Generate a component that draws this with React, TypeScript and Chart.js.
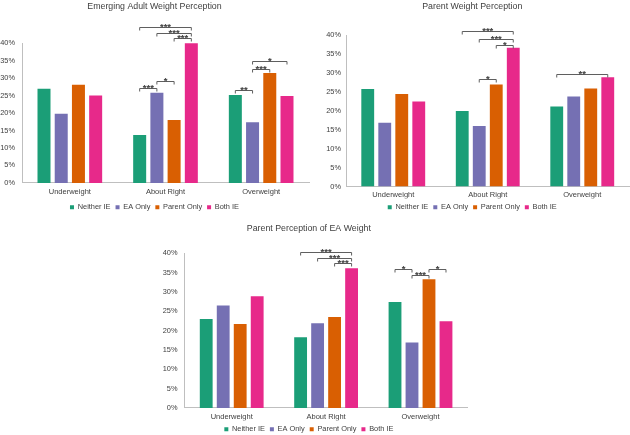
import React, { useEffect, useRef } from 'react';
import { Chart, registerables } from 'chart.js';

Chart.register(...registerables);

const categories = ['Underweight', 'About Right', 'Overweight'];
const seriesNames = ['Neither IE', 'EA Only', 'Parent Only', 'Both IE'];
const seriesColors = ['#1b9e77', '#7570b3', '#d95f02', '#e7298a'];

// Emerging Adult Weight Perception (%)
const eaNeither = [27.0, 13.7, 25.2];
const eaEAOnly = [19.8, 25.8, 17.4];
const eaParentOnly = [28.1, 18.0, 31.5];
const eaBoth = [25.0, 40.1, 24.9];

// Parent Weight Perception (%)
const parNeither = [25.8, 20.0, 21.2];
const parEAOnly = [16.9, 16.0, 23.8];
const parParentOnly = [24.5, 27.0, 25.9];
const parBoth = [22.5, 36.7, 28.9];

// Parent Perception of EA Weight (%)
const ppNeither = [23.0, 18.3, 27.4];
const ppEAOnly = [26.5, 21.9, 16.9];
const ppParentOnly = [21.7, 23.5, 33.3];
const ppBoth = [28.9, 36.1, 22.4];

// significance brackets: category index, series a, series b, label, bracket value (%)
type Sig = { cat: number; a: number; b: number; label: string; at: number };
const eaSigs: Sig[] = [
  { cat: 1, a: 0, b: 3, label: '***', at: 44.7 },
  { cat: 1, a: 1, b: 3, label: '***', at: 42.9 },
  { cat: 1, a: 2, b: 3, label: '***', at: 41.5 },
  { cat: 1, a: 0, b: 1, label: '***', at: 27.1 },
  { cat: 1, a: 1, b: 2, label: '*', at: 29.2 },
  { cat: 2, a: 0, b: 1, label: '**', at: 26.6 },
  { cat: 2, a: 1, b: 2, label: '***', at: 32.6 },
  { cat: 2, a: 1, b: 3, label: '*', at: 34.9 },
];
const parSigs: Sig[] = [
  { cat: 1, a: 0, b: 3, label: '***', at: 41.05 },
  { cat: 1, a: 1, b: 3, label: '***', at: 38.9 },
  { cat: 1, a: 2, b: 3, label: '*', at: 37.5 },
  { cat: 1, a: 1, b: 2, label: '*', at: 28.5 },
  { cat: 2, a: 0, b: 3, label: '**', at: 29.8 },
];
const ppSigs: Sig[] = [
  { cat: 1, a: 0, b: 3, label: '***', at: 40.4 },
  { cat: 1, a: 1, b: 3, label: '***', at: 38.7 },
  { cat: 1, a: 2, b: 3, label: '***', at: 37.4 },
  { cat: 2, a: 0, b: 1, label: '*', at: 36.0 },
  { cat: 2, a: 1, b: 2, label: '***', at: 34.4 },
  { cat: 2, a: 2, b: 3, label: '*', at: 36.0 },
];

const FONT = "'Liberation Sans', Arial, sans-serif";

type PanelCfg = {
  left: number; top: number; width: number; height: number;
  title: string; titlePadTop: number; titlePadBottom: number;
  yWidth: number; yPad: number; xHeight: number; xPad: number; padRight: number;
  series: number[][]; sigs: Sig[];
};

const panels: PanelCfg[] = [
  {
    left: 0, top: 0, width: 315, height: 221,
    title: 'Emerging Adult Weight Perception', titlePadTop: 0.84, titlePadBottom: 31.84,
    yWidth: 22, yPad: 7, xHeight: 15.7, xPad: 4.3, padRight: 6,
    series: [eaNeither, eaEAOnly, eaParentOnly, eaBoth], sigs: eaSigs,
  },
  {
    left: 315, top: 0, width: 330, height: 221,
    title: 'Parent Weight Perception', titlePadTop: 0.84, titlePadBottom: 23.84,
    yWidth: 31, yPad: 5, xHeight: 12, xPad: 3.9, padRight: 15.5,
    series: [parNeither, parEAOnly, parParentOnly, parBoth], sigs: parSigs,
  },
  {
    left: 150, top: 205, width: 338, height: 238,
    title: 'Parent Perception of EA Weight', titlePadTop: 17.84, titlePadBottom: 19.84,
    yWidth: 34.5, yPad: 7, xHeight: 12.7, xPad: 4.9, padRight: 20.3,
    series: [ppNeither, ppEAOnly, ppParentOnly, ppBoth], sigs: ppSigs,
  },
];

function makeSigPlugin(sigs: Sig[]) {
  return {
    id: 'sigBrackets',
    afterDatasetsDraw(chart: any) {
      const ctx = chart.ctx as CanvasRenderingContext2D;
      const yScale = chart.scales.y;
      ctx.save();
      ctx.strokeStyle = '#5f5f5f';
      ctx.lineWidth = 1;
      ctx.fillStyle = '#404040';
      ctx.font = `bold 9.5px ${FONT}`;
      ctx.textAlign = 'center';
      ctx.textBaseline = 'alphabetic';
      sigs.forEach((s) => {
        const x1 = chart.getDatasetMeta(s.a).data[s.cat].x;
        const x2 = chart.getDatasetMeta(s.b).data[s.cat].x;
        const yy = Math.round(yScale.getPixelForValue(s.at)) + 0.5;
        ctx.beginPath();
        ctx.moveTo(x1, yy + 3);
        ctx.lineTo(x1, yy);
        ctx.lineTo(x2, yy);
        ctx.lineTo(x2, yy + 3);
        ctx.stroke();
        ctx.fillText(s.label, (x1 + x2) / 2, yy + 2.6);
      });
      ctx.restore();
    },
  };
}

function Panel({ cfg }: { cfg: PanelCfg }) {
  const ref = useRef<HTMLCanvasElement>(null);
  useEffect(() => {
    const chart = new Chart(ref.current as HTMLCanvasElement, {
      type: 'bar',
      data: {
        labels: categories,
        datasets: cfg.series.map((vals, i) => ({
          label: seriesNames[i],
          data: vals,
          backgroundColor: seriesColors[i],
          borderWidth: 0,
          barPercentage: 0.755,
          categoryPercentage: 0.72,
        })),
      },
      options: {
        responsive: false,
        animation: false,
        layout: { padding: { left: 0, right: cfg.padRight, top: 0, bottom: 0 } },
        plugins: {
          title: {
            display: true,
            text: cfg.title,
            color: '#404040',
            font: { family: FONT, size: 8.8, weight: 'normal' },
            padding: { top: cfg.titlePadTop, bottom: cfg.titlePadBottom },
          },
          legend: {
            display: true,
            position: 'bottom',
            labels: {
              color: '#404040',
              font: { family: FONT, size: 7.4 },
              boxWidth: 4,
              boxHeight: 4,
              padding: 5,
            },
          },
          tooltip: { enabled: false },
        },
        scales: {
          x: {
            grid: { display: false, drawTicks: false },
            border: { display: true, color: '#bfbfbf' },
            ticks: { color: '#404040', font: { family: FONT, size: 7.5 }, padding: cfg.xPad, maxRotation: 0 },
            afterFit: (scale: any) => { scale.height = cfg.xHeight; },
          },
          y: {
            min: 0,
            max: 40,
            grid: { display: false, drawTicks: false },
            border: { display: true, color: '#bfbfbf' },
            ticks: {
              stepSize: 5,
              color: '#404040',
              font: { family: FONT, size: 7.4 },
              padding: cfg.yPad,
              callback: (v: any) => `${v}%`,
            },
            afterFit: (scale: any) => { scale.width = cfg.yWidth; },
          },
        },
      },
      plugins: [makeSigPlugin(cfg.sigs)],
    } as any);
    return () => chart.destroy();
  }, [cfg]);
  return (
    <canvas
      ref={ref}
      width={cfg.width}
      height={cfg.height}
      style={{ position: 'absolute', left: cfg.left, top: cfg.top, width: cfg.width, height: cfg.height }}
    />
  );
}

export default function App() {
  return (
    <div style={{ position: 'absolute', left: 0, top: 0, width: 630, height: 435, overflow: 'hidden', background: '#ffffff' }}>
      {panels.map((p, i) => (
        <Panel key={i} cfg={p} />
      ))}
    </div>
  );
}
